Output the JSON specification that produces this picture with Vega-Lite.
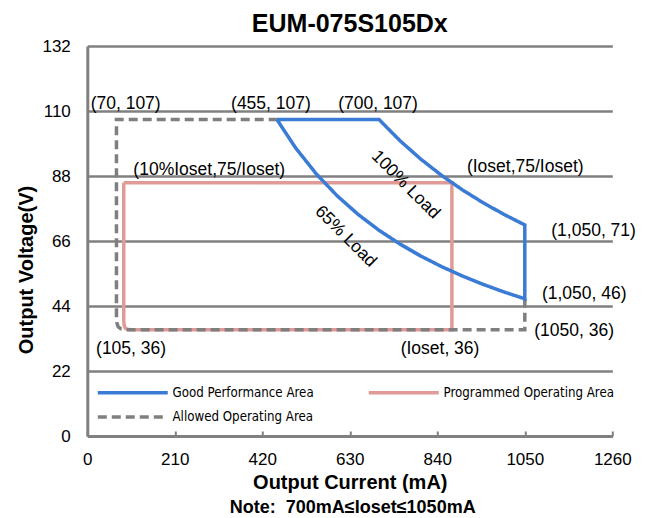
{
  "$schema": "https://vega.github.io/schema/vega-lite/v6.json",
  "width": 525,
  "height": 390,
  "autosize": {"type": "none"},
  "padding": {"left": 87.3, "top": 46, "right": 34.7, "bottom": 82},
  "background": "white",
  "config": {
    "view": {"stroke": null},
    "font": "Liberation Sans",
    "axis": {
      "labelFont": "Liberation Sans",
      "labelFontSize": 17,
      "labelColor": "black",
      "titleFont": "Liberation Sans",
      "titleFontSize": 20,
      "titleFontWeight": "bold",
      "titleColor": "black",
      "domainColor": "#808080",
      "domainWidth": 3,
      "gridColor": "#808080",
      "gridWidth": 2.5
    },
    "axisX": {"grid": false, "tickColor": "#808080", "tickWidth": 2, "tickSize": -5, "labelPadding": 20, "labelFlush": false, "format": "d", "titleBaseline": "alphabetic", "titleY": 52.3, "titleAnchor": "middle"},
    "axisY": {"grid": true, "ticks": false, "labelPadding": 17, "titleBaseline": "alphabetic", "titleX": -55, "titleY": 223.5, "titleAngle": -90, "titleAlign": "center"}
  },
  "title": {
    "text": "EUM-075S105Dx",
    "font": "Liberation Sans",
    "fontSize": 25,
    "fontWeight": "bold",
    "color": "black",
    "anchor": "middle",
    "baseline": "alphabetic",
    "offset": 4,
    "dy": 24
  },
  "datasets": {
    "curves": [
      {"series": "Good Performance Area", "o": 1, "I": 455, "V": 107.14},
      {"series": "Good Performance Area", "o": 2, "I": 700, "V": 107.14},
      {"series": "Good Performance Area", "o": 3, "I": 750, "V": 100},
      {"series": "Good Performance Area", "o": 4, "I": 800, "V": 93.75},
      {"series": "Good Performance Area", "o": 5, "I": 850, "V": 88.24},
      {"series": "Good Performance Area", "o": 6, "I": 900, "V": 83.33},
      {"series": "Good Performance Area", "o": 7, "I": 950, "V": 78.95},
      {"series": "Good Performance Area", "o": 8, "I": 1000, "V": 75},
      {"series": "Good Performance Area", "o": 9, "I": 1050, "V": 71.43},
      {"series": "Good Performance Area", "o": 10, "I": 1050, "V": 46.43},
      {"series": "Good Performance Area", "o": 11, "I": 1000, "V": 48.75},
      {"series": "Good Performance Area", "o": 12, "I": 950, "V": 51.32},
      {"series": "Good Performance Area", "o": 13, "I": 900, "V": 54.17},
      {"series": "Good Performance Area", "o": 14, "I": 850, "V": 57.35},
      {"series": "Good Performance Area", "o": 15, "I": 800, "V": 60.94},
      {"series": "Good Performance Area", "o": 16, "I": 750, "V": 65},
      {"series": "Good Performance Area", "o": 17, "I": 700, "V": 69.64},
      {"series": "Good Performance Area", "o": 18, "I": 650, "V": 75},
      {"series": "Good Performance Area", "o": 19, "I": 600, "V": 81.25},
      {"series": "Good Performance Area", "o": 20, "I": 550, "V": 88.64},
      {"series": "Good Performance Area", "o": 21, "I": 500, "V": 97.5},
      {"series": "Good Performance Area", "o": 22, "I": 455, "V": 107.14},
      {"series": "Programmed Operating Area", "o": 1, "I": 87.5, "V": 85.71},
      {"series": "Programmed Operating Area", "o": 2, "I": 875, "V": 85.71},
      {"series": "Programmed Operating Area", "o": 3, "I": 875, "V": 36},
      {"series": "Programmed Operating Area", "o": 4, "I": 105, "V": 36},
      {"series": "Programmed Operating Area", "o": 5, "I": 96, "V": 36.1},
      {"series": "Programmed Operating Area", "o": 6, "I": 91, "V": 36.5},
      {"series": "Programmed Operating Area", "o": 7, "I": 88.5, "V": 37.5},
      {"series": "Programmed Operating Area", "o": 8, "I": 87.5, "V": 39},
      {"series": "Programmed Operating Area", "o": 9, "I": 87.5, "V": 85.71},
      {"series": "Allowed Operating Area", "o": 1, "I": 1050, "V": 46.43},
      {"series": "Allowed Operating Area", "o": 2, "I": 1050, "V": 36},
      {"series": "Allowed Operating Area", "o": 3, "I": 105, "V": 36},
      {"series": "Allowed Operating Area", "o": 4, "I": 90, "V": 36},
      {"series": "Allowed Operating Area", "o": 5, "I": 80, "V": 36.3},
      {"series": "Allowed Operating Area", "o": 6, "I": 74, "V": 37},
      {"series": "Allowed Operating Area", "o": 7, "I": 71, "V": 38.3},
      {"series": "Allowed Operating Area", "o": 8, "I": 70, "V": 40},
      {"series": "Allowed Operating Area", "o": 9, "I": 70, "V": 107.14},
      {"series": "Allowed Operating Area", "o": 10, "I": 455, "V": 107.14}
    ],
    "labels": [
      {"t": "(70, 107)", "I": 8, "V": 112.5},
      {"t": "(455, 107)", "I": 345, "V": 112.5},
      {"t": "(700, 107)", "I": 602, "V": 112.5},
      {"t": "(10%Ioset,75/Ioset)", "I": 110.5, "V": 90},
      {"t": "(Ioset,75/Ioset)", "I": 911, "V": 91.2},
      {"t": "(1,050, 71)", "I": 1113.5, "V": 69.5},
      {"t": "(1,050, 46)", "I": 1091, "V": 48.1},
      {"t": "(1050, 36)", "I": 1072.7, "V": 35.7},
      {"t": "(105, 36)", "I": 21, "V": 29.4},
      {"t": "(Ioset, 36)", "I": 752, "V": 29.6}
    ],
    "loads": [
      {"t": "100% Load", "I": 764, "V": 85},
      {"t": "65% Load", "I": 620, "V": 67.5}
    ],
    "note": [
      {"t": "Note:\u00a0 700mA≤Ioset≤1050mA", "I": 637, "V": -24.3}
    ]
  },
  "layer": [
    {
      "data": {"name": "curves"},
      "transform": [{"filter": "datum.series === 'Programmed Operating Area'"}],
      "mark": {"type": "line", "strokeWidth": 3.5, "strokeJoin": "miter"},
      "encoding": {
        "x": {"field": "I", "type": "quantitative", "title": "Output Current (mA)", "scale": {"domain": [0, 1260], "nice": false, "zero": false}, "axis": {"values": [0, 210, 420, 630, 840, 1050, 1260]}},
        "y": {"field": "V", "type": "quantitative", "title": "Output Voltage(V)", "scale": {"domain": [0, 132], "nice": false, "zero": false}, "axis": {"values": [0, 22, 44, 66, 88, 110, 132]}},
        "color": {
          "field": "series", "type": "nominal",
          "scale": {"domain": ["Good Performance Area", "Programmed Operating Area", "Allowed Operating Area"], "range": ["#3a7bd5", "#e09a98", "#7f7f7f"]},
          "legend": {"orient": "none", "legendX": 61.2, "legendY": 336, "direction": "horizontal", "columns": 2, "title": null, "symbolType": "M-7,0H1", "symbolSize": 306, "symbolStrokeWidth": 3.5, "labelFont": "DejaVu Sans Condensed, Liberation Sans", "labelFontSize": 13.2, "labelLimit": 0, "labelColor": "black", "labelOffset": 3, "columnPadding": 47, "rowPadding": 6.5, "padding": 0}
        },
        "strokeDash": {"field": "series", "type": "nominal", "scale": {"domain": ["Good Performance Area", "Programmed Operating Area", "Allowed Operating Area"], "range": [[1, 0], [1, 0], [9, 5]]}},
        "order": {"field": "o", "type": "quantitative"}
      }
    },
    {
      "data": {"name": "curves"},
      "transform": [{"filter": "datum.series === 'Allowed Operating Area'"}],
      "mark": {"type": "line", "strokeWidth": 3.5, "strokeJoin": "miter"},
      "encoding": {
        "x": {"field": "I", "type": "quantitative", "title": "Output Current (mA)"},
        "y": {"field": "V", "type": "quantitative", "title": "Output Voltage(V)"},
        "color": {"field": "series", "type": "nominal"},
        "strokeDash": {"field": "series", "type": "nominal"},
        "order": {"field": "o", "type": "quantitative"}
      }
    },
    {
      "data": {"name": "curves"},
      "transform": [{"filter": "datum.series === 'Good Performance Area'"}],
      "mark": {"type": "line", "strokeWidth": 3.5, "strokeJoin": "miter"},
      "encoding": {
        "x": {"field": "I", "type": "quantitative", "title": "Output Current (mA)"},
        "y": {"field": "V", "type": "quantitative", "title": "Output Voltage(V)"},
        "color": {"field": "series", "type": "nominal"},
        "strokeDash": {"field": "series", "type": "nominal"},
        "order": {"field": "o", "type": "quantitative"}
      }
    },
    {
      "data": {"name": "labels"},
      "mark": {"type": "text", "align": "left", "baseline": "middle", "font": "Liberation Sans", "fontSize": 17.5, "color": "black"},
      "encoding": {
        "x": {"field": "I", "type": "quantitative", "title": "Output Current (mA)"},
        "y": {"field": "V", "type": "quantitative", "title": "Output Voltage(V)"},
        "text": {"field": "t"}
      }
    },
    {
      "data": {"name": "loads"},
      "mark": {"type": "text", "align": "center", "baseline": "middle", "angle": 45, "font": "Liberation Sans", "fontSize": 17.5, "color": "black"},
      "encoding": {
        "x": {"field": "I", "type": "quantitative", "title": "Output Current (mA)"},
        "y": {"field": "V", "type": "quantitative", "title": "Output Voltage(V)"},
        "text": {"field": "t"}
      }
    },
    {
      "data": {"name": "note"},
      "mark": {"type": "text", "align": "center", "baseline": "middle", "font": "Liberation Sans", "fontSize": 18, "fontWeight": "bold", "color": "black"},
      "encoding": {
        "x": {"field": "I", "type": "quantitative", "title": "Output Current (mA)"},
        "y": {"field": "V", "type": "quantitative", "title": "Output Voltage(V)"},
        "text": {"field": "t"}
      }
    }
  ]
}
